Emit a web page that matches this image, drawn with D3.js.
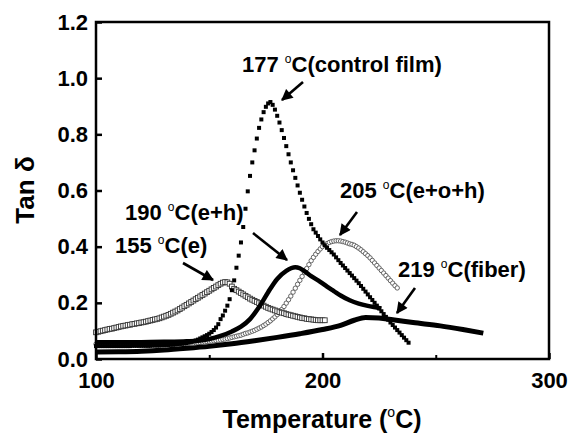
<!DOCTYPE html>
<html>
<head>
<meta charset="utf-8">
<script src="https://cdn.jsdelivr.net/npm/d3@7"></script>
<style>
  body { margin: 0; background: #fff; }
  text { font-family: "Liberation Sans", Arial, sans-serif; font-weight: bold; fill: #000; }
</style>
</head>
<body>
<div id="chart"></div>
<script>
const chart_width = 568;
const chart_height = 435;

// tan delta vs temperature
const controlFilm = [
  [100,.046],[101,.046],[102,.046],[103,.046],[104,.046],[105,.046],[106,.046],[107,.046],[108,.046],[109,.046],
  [110,.046],[111,.046],[112,.046],[113,.046],[114,.046],[115,.046],[116,.047],[117,.047],[118,.047],[119,.047],
  [120,.047],[121,.047],[122,.047],[123,.047],[124,.047],[125,.048],[126,.048],[127,.048],[128,.048],[129,.049],
  [130,.049],[131,.050],[132,.050],[133,.051],[134,.051],[135,.052],[136,.053],[137,.054],[138,.055],[139,.056],
  [140,.057],[141,.059],[142,.061],[143,.063],[144,.066],[145,.069],[146,.073],[147,.077],[148,.081],[149,.085],
  [150,.090],[151,.096],[152,.103],[153,.112],[154,.124],[155,.142],[156,.155],[157,.172],[158,.19],[159,.213],
  [160,.245],[161,.28],[162,.325],[163,.368],[164,.415],[165,.47],[166,.535],[167,.597],[168,.652],[169,.70],
  [170,.743],[171,.785],[172,.823],[173,.853],[174,.879],[175,.898],[176,.91],[177,.915],[178,.905],[179,.888],
  [180,.866],[181,.842],[182,.815],[183,.787],[184,.758],[185,.729],[186,.70],[187,.672],[188,.645],[189,.618],
  [190,.592],[191,.567],[192,.543],[193,.52],[194,.499],[195,.48],[196,.462],[197,.45],[198,.438],[199,.426],
  [200,.415],[201,.405],[202,.396],[203,.388],[204,.38],[205,.372],[206,.362],[207,.352],[208,.342],[209,.333],
  [210,.324],[211,.315],[212,.306],[213,.297],[214,.288],[215,.279],[216,.27],[217,.26],[218,.25],[219,.24],
  [220,.23],[221,.22],[222,.21],[223,.2],[224,.19],[225,.18],[226,.17],[227,.16],[228,.15],[229,.14],
  [230,.13],[231,.121],[232,.112],[233,.103],[234,.094],[235,.085],[236,.076],[237,.067],[238,.058]
];

const filmE = [
  [100,.095],[101,.097],[102,.099],[103,.101],[104,.103],[105,.105],[106,.107],[107,.108],[108,.11],[109,.112],
  [110,.114],[111,.116],[112,.118],[113,.119],[114,.121],[115,.122],[116,.124],[117,.125],[118,.127],[119,.128],
  [120,.13],[121,.131],[122,.133],[123,.135],[124,.137],[125,.139],[126,.141],[127,.143],[128,.145],[129,.148],
  [130,.151],[131,.154],[132,.157],[133,.161],[134,.165],[135,.169],[136,.173],[137,.178],[138,.183],[139,.188],
  [140,.193],[141,.198],[142,.203],[143,.208],[144,.213],[145,.218],[146,.223],[147,.228],[148,.233],[149,.238],
  [150,.243],[151,.248],[152,.253],[153,.258],[154,.263],[155,.268],[156,.272],[157,.274],[158,.273],[159,.268],
  [160,.258],[161,.25],[162,.245],[163,.24],[164,.235],[165,.23],[166,.225],[167,.22],[168,.215],[169,.211],
  [170,.207],[171,.203],[172,.199],[173,.195],[174,.19],[175,.186],[176,.182],[177,.179],[178,.176],[179,.173],
  [180,.17],[181,.167],[182,.165],[183,.163],[184,.16],[185,.158],[186,.156],[187,.154],[188,.152],[189,.15],
  [190,.148],[191,.146],[192,.145],[193,.143],[194,.142],[195,.141],[196,.14],[197,.139],[198,.138],[199,.138],
  [200,.138],[201,.138]
];

const filmEOH = [
  [100,.053],[101,.053],[102,.053],[103,.053],[104,.053],[105,.053],[106,.053],[107,.053],[108,.053],[109,.053],
  [110,.053],[111,.053],[112,.053],[113,.053],[114,.053],[115,.053],[116,.053],[117,.053],[118,.053],[119,.053],
  [120,.053],[121,.053],[122,.053],[123,.053],[124,.053],[125,.053],[126,.053],[127,.053],[128,.053],[129,.053],
  [130,.053],[131,.054],[132,.054],[133,.054],[134,.054],[135,.054],[136,.055],[137,.055],[138,.055],[139,.055],
  [140,.056],[141,.056],[142,.057],[143,.057],[144,.058],[145,.058],[146,.059],[147,.06],[148,.061],[149,.062],
  [150,.063],[151,.064],[152,.065],[153,.066],[154,.067],[155,.068],[156,.07],[157,.071],[158,.073],[159,.075],
  [160,.077],[161,.079],[162,.081],[163,.083],[164,.085],[165,.088],[166,.091],[167,.093],[168,.096],[169,.099],
  [170,.102],[171,.106],[172,.11],[173,.114],[174,.119],[175,.124],[176,.13],[177,.136],[178,.143],[179,.15],
  [180,.158],[181,.166],[182,.176],[183,.187],[184,.199],[185,.211],[186,.224],[187,.238],[188,.252],[189,.266],
  [190,.28],[191,.294],[192,.308],[193,.322],[194,.336],[195,.35],[196,.362],[197,.373],[198,.383],[199,.392],
  [200,.4],[201,.406],[202,.411],[203,.415],[204,.418],[205,.42],[206,.421],[207,.421],[208,.42],[209,.418],
  [210,.416],[211,.413],[212,.41],[213,.408],[214,.405],[215,.4],[216,.395],[217,.389],[218,.382],[219,.375],
  [220,.368],[221,.36],[222,.351],[223,.342],[224,.333],[225,.324],[226,.315],[227,.306],[228,.297],[229,.288],
  [230,.279],[231,.27],[232,.261],[233,.253]
];

const filmEH = [
  [100,.06],[120,.06],[130,.061],[140,.063],[146,.066],[150,.071],[155,.082],[160,.098],[164,.115],[168,.142],
  [172,.185],[176,.238],[180,.285],[184,.314],[188,.327],[190,.323],[192,.313],[195,.295],[199,.275],[202,.258],
  [205,.242],[208,.226],[212,.209],[216,.197],[220,.189],[224,.183],[226,.18]
];

const fiber = [
  [100,.025],[110,.026],[120,.028],[130,.032],[140,.038],[150,.045],[160,.054],[170,.065],[180,.077],[190,.09],
  [200,.105],[208,.12],[214,.138],[219,.148],[225,.146],[231,.14],[240,.13],[252,.118],[262,.105],[271,.092]
];

const xTicks = [100, 200, 300];
const xMinorTicks = [150, 250];
const yTicks = [0, 0.2, 0.4, 0.6, 0.8, 1.0, 1.2];

// annotation text: [value, label, x, y]
const notes = [
  ["177", "C(control film)", 242, 72],
  ["190", "C(e+h)", 125, 220],
  ["155", "C(e)", 115, 253],
  ["205", "C(e+o+h)", 340, 198],
  ["219", "C(fiber)", 398, 277]
];
// arrows: tail -> tip
const arrows = [
  [303, 82, 282, 100],
  [253, 233, 287, 260],
  [183, 263, 213, 280],
  [357, 212, 340, 235],
  [415, 288, 397, 313]
];

var margin = { top: 22, right: 19, bottom: 76, left: 96 }
  , width = chart_width - margin.left - margin.right
  , height = chart_height - margin.top - margin.bottom;

var svg = d3.select("#chart").append("svg")
  .attr("width", chart_width)
  .attr("height", chart_height);

svg.append("defs").append("marker")
  .attr("id", "head")
  .attr("viewBox", "0 0 10 10")
  .attr("refX", 9).attr("refY", 5)
  .attr("markerWidth", 4.8).attr("markerHeight", 4.4)
  .attr("markerUnits", "strokeWidth")
  .attr("orient", "auto")
  .append("path")
  .attr("d", "M0,0 L10,5 L0,10 z")
  .attr("fill", "#000");

var g = svg.append("g")
  .attr("transform", "translate(" + margin.left + "," + margin.top + ")");

var xScale = d3.scaleLinear().domain([100, 300]).range([0, width]);
var yScale = d3.scaleLinear().domain([0, 1.2]).range([height, 0]);

var lineGen = d3.line()
  .x(d => xScale(d[0]))
  .y(d => yScale(d[1]))
  .curve(d3.curveMonotoneX);

// open circles (e+o+h)
g.append("g").selectAll("circle")
  .data(filmEOH)
  .join("circle")
  .attr("cx", d => xScale(d[0]))
  .attr("cy", d => yScale(d[1]))
  .attr("r", 2.2)
  .attr("fill", "#fff")
  .attr("stroke", "#555")
  .attr("stroke-width", 0.9);

// open squares (e)
g.append("g").selectAll("rect")
  .data(filmE)
  .join("rect")
  .attr("x", d => xScale(d[0]) - 2.4)
  .attr("y", d => yScale(d[1]) - 2.4)
  .attr("width", 4.8).attr("height", 4.8)
  .attr("fill", "#fff")
  .attr("stroke", "#333")
  .attr("stroke-width", 0.9);

// fiber
g.append("path")
  .datum(fiber)
  .attr("d", lineGen)
  .attr("fill", "none")
  .attr("stroke", "#000")
  .attr("stroke-width", 5);

// e+h
g.append("path")
  .datum(filmEH)
  .attr("d", lineGen)
  .attr("fill", "none")
  .attr("stroke", "#000")
  .attr("stroke-width", 4.5);

// control film, filled squares
g.append("g").selectAll("rect")
  .data(controlFilm)
  .join("rect")
  .attr("x", d => xScale(d[0]) - 2)
  .attr("y", d => yScale(d[1]) - 2)
  .attr("width", 4).attr("height", 4)
  .attr("fill", "#000");

// frame
g.append("rect")
  .attr("width", width).attr("height", height)
  .attr("fill", "none")
  .attr("stroke", "#000")
  .attr("stroke-width", 2.5);

// ticks (inward)
g.append("g")
  .attr("transform", "translate(0," + height + ")")
  .call(d3.axisBottom(xScale).tickValues(xTicks).tickSize(-6).tickPadding(13).tickFormat(d3.format("d")))
  .call(a => a.select(".domain").remove())
  .call(a => a.selectAll("line").attr("stroke-width", 2.5))
  .call(a => a.selectAll("text").attr("font-size", 22).attr("font-family", null));

g.append("g")
  .attr("transform", "translate(0," + height + ")")
  .call(d3.axisBottom(xScale).tickValues(xMinorTicks).tickSize(-4).tickFormat(""))
  .call(a => a.select(".domain").remove())
  .call(a => a.selectAll("line").attr("stroke-width", 2));

g.append("g")
  .call(d3.axisLeft(yScale).tickValues(yTicks).tickSize(-6).tickPadding(8).tickFormat(d3.format(".1f")))
  .call(a => a.select(".domain").remove())
  .call(a => a.selectAll("line").attr("stroke-width", 2.5))
  .call(a => a.selectAll("text").attr("font-size", 22).attr("font-family", null));

// axis titles
var xt = svg.append("text")
  .attr("x", 322).attr("y", 428)
  .attr("text-anchor", "middle")
  .attr("font-size", 25);
xt.append("tspan").text("Temperature (");
xt.append("tspan").text("o").attr("font-size", 14).attr("font-weight", "normal").attr("dy", -11);
xt.append("tspan").text("C)").attr("dy", 11);

svg.append("text")
  .attr("transform", "translate(34,190) rotate(-90)")
  .attr("text-anchor", "middle")
  .attr("font-size", 26)
  .text("Tan δ");

// annotations
notes.forEach(n => {
  var t = svg.append("text").attr("x", n[2]).attr("y", n[3]).attr("font-size", 22);
  t.append("tspan").text(n[0] + " ");
  t.append("tspan").text("o").attr("font-size", 12).attr("font-weight", "normal").attr("dy", -9);
  t.append("tspan").text(n[1]).attr("dy", 9);
});

svg.append("g").selectAll("line")
  .data(arrows)
  .join("line")
  .attr("x1", d => d[0]).attr("y1", d => d[1])
  .attr("x2", d => d[2]).attr("y2", d => d[3])
  .attr("stroke", "#000")
  .attr("stroke-width", 2.6)
  .attr("marker-end", "url(#head)");
</script>
</body>
</html>
